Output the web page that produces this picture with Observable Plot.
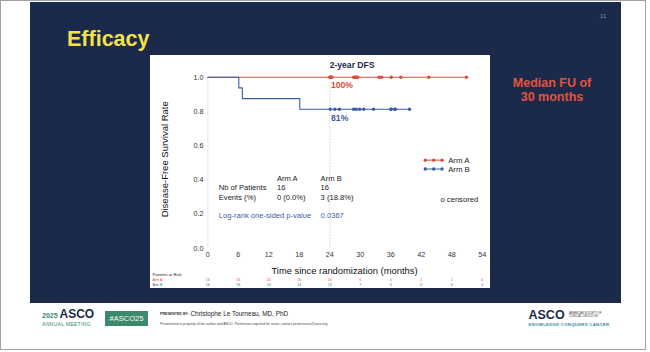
<!DOCTYPE html>
<html><head><meta charset="utf-8">
<script src="https://cdn.jsdelivr.net/npm/d3@7"></script>
<script src="https://cdn.jsdelivr.net/npm/@observablehq/plot@0.6"></script>
<style>
html,body{margin:0;padding:0;background:#fff;}
body{width:650px;height:352px;position:relative;overflow:hidden;font-family:Arial,"Liberation Sans",Helvetica,sans-serif;}
.a{position:absolute;white-space:nowrap;line-height:1;}
#frame{left:0;top:0;width:646px;height:350px;border:1px solid #a0a0a0;box-sizing:border-box;}
#slide{left:30px;top:2px;width:591px;height:301px;background:#1b2a4a;}
#title{left:67px;top:28.8px;color:#f2e24a;font-weight:bold;font-size:21.5px;}
#pnum{left:600px;top:13px;color:#8893ad;font-size:6px;}
#fu{left:492px;top:75.8px;width:120px;text-align:center;color:#e2533f;font-weight:bold;font-size:12.5px;line-height:14.4px;white-space:normal;}
#chart{left:150px;top:55px;}
</style></head>
<body>
<div id="frame" class="a"></div>
<div id="slide" class="a"></div>
<div id="title" class="a">Efficacy</div>
<div id="pnum" class="a">11</div>
<div id="fu" class="a">Median FU of<br>30 months</div>
<div id="chart" class="a"></div>

<div class="a" style="left:42px;top:308px;font-size:12px;line-height:12px;font-weight:bold;color:#1b2a4a;"><span style="font-size:7px;color:#3a8a6a;">2025 </span>ASCO</div>
<div class="a" style="left:42px;top:321.5px;font-size:5.2px;color:#3a8a6a;letter-spacing:0.2px;">ANNUAL MEETING</div>
<div class="a" style="left:105px;top:311px;width:43px;height:15px;background:#3b8a6b;color:#fff;font-size:7.5px;line-height:15px;text-align:center;">#ASCO25</div>
<div class="a" style="left:160px;top:312.5px;font-size:3.6px;font-weight:bold;color:#333;">PRESENTED BY:</div>
<div class="a" style="left:190.5px;top:311px;font-size:6.4px;color:#222;">Christophe Le Tourneau, MD, PhD</div>
<div class="a" style="left:160px;top:322.5px;font-size:3.4px;color:#444;">Presentation is property of the author and ASCO. Permission required for reuse; contact permissions@asco.org</div>
<div class="a" style="left:528.5px;top:309px;font-size:12.5px;font-weight:bold;color:#1b2a4a;">ASCO</div>
<div class="a" style="left:569px;top:312px;font-size:2.8px;color:#333;line-height:3.3px;">AMERICAN SOCIETY OF<br>CLINICAL ONCOLOGY</div>
<div class="a" style="left:528.5px;top:322.5px;font-size:4.2px;font-weight:bold;color:#2f8a9a;letter-spacing:0.35px;">KNOWLEDGE CONQUERS CANCER</div>

<script>
// ---------- data ----------
const arms = ["Arm A", "Arm B"];
const armColors = ["#e04a3c", "#3d5ca6"];
const xTicks = [0, 6, 12, 18, 24, 30, 36, 42, 48, 54];
const yTicks = [0, 0.2, 0.4, 0.6, 0.8, 1.0];
// Kaplan-Meier step points (months, survival)
const armATimes = [0, 50.9];
const armASurv  = [1, 1];
const armBTimes = [0, 6.1, 6.8, 18.1, 39.7];
const armBSurv  = [1, 0.9375, 0.875, 0.8125, 0.8125];
// censoring times (months)
const armACensored = [24.0, 24.1, 24.2, 24.3, 24.4, 28.7, 28.9, 29.1, 29.3, 29.5, 33.7, 34.2, 36.1, 38.0, 43.5, 50.9];
const armBCensored = [24.1, 25.0, 25.9, 28.7, 29.2, 29.9, 30.7, 32.6, 36.0, 36.1, 36.8, 36.9, 39.7];
// patients at risk at each x tick
const armAAtRisk = [16, 16, 16, 16, 16, 6, 4, 2, 1, 0];
const armBAtRisk = [16, 16, 14, 14, 13, 7, 5, 0, 0, 0];
// summary table
const tableHeader = ["Arm A", "Arm B"];
const tableLabels = ["Nb of Patients", "Events (%)"];
const armAStats = ["16", "0 (0.0%)"];
const armBStats = ["16", "3 (18.8%)"];
const pLabel = "Log-rank one-sided p-value";
const pValue = "0.0367";
const dfsTitle = "2-year DFS";
const dfsValues = ["100%", "81%"];
const landmark = 24;

// ---------- derived tables ----------
const curves = [[armATimes, armASurv], [armBTimes, armBSurv]];
const censored = [armACensored, armBCensored];
const atRisk = [armAAtRisk, armBAtRisk];
const curveRows = arms.flatMap((arm, i) => curves[i][0].map((t, j) => ({arm, t, s: curves[i][1][j]})));
const survAt = (i, t) => { const [ts, ss] = curves[i]; let s = ss[0]; ts.forEach((tt, j) => { if (tt <= t) s = ss[j]; }); return s; };
const censorRows = arms.flatMap((arm, i) => censored[i].map(t => ({arm, t, s: survAt(i, t)})));
const riskRows = i => xTicks.map((t, j) => ({t, n: String(atRisk[i][j])}));

const font = "Arial, 'Liberation Sans', Helvetica, sans-serif";
const txt = "#1a1a1a";
// layout (data-space anchors for annotations)
const legX = [42.8, 44.45, 46.1], legY = [0.515, 0.463];
const colX = [2.16, 13.6, 22.2];
const rowY = [0.41, 0.357, 0.298, 0.191];

const marks = [
  Plot.ruleX([0], {stroke: "#e4e4e4", strokeWidth: 0.8}),
  Plot.ruleX([landmark], {y1: 0, y2: 1, stroke: "#c4c4c4", strokeWidth: 0.8, strokeDasharray: "1.2,1.8"}),
  Plot.axisX({ticks: xTicks, tickSize: 0, tickPadding: 3.5, fontSize: 7.2, fill: "#333", label: null}),
  Plot.axisY({ticks: yTicks, tickFormat: d => d.toFixed(1), tickSize: 0, tickPadding: 4.3, fontSize: 7.2, fill: "#333", label: null}),
  Plot.line(curveRows, {x: "t", y: "s", z: "arm", stroke: "arm", curve: "step-after", strokeWidth: 1.1}),
  Plot.dot(censorRows, {x: "t", y: "s", fill: "arm", r: 1.7}),
  // titles
  Plot.text(["Time since randomization (months)"], {x: 26.9, y: 0, dy: 22.5, fontSize: 9.4, fill: "#111"}),
  Plot.text(["Disease-Free Survival Rate"], {x: 0, y: 0.52, dx: -43.3, rotate: -90, fontSize: 9.5, fill: "#111"}),
  // 2-year DFS annotation
  Plot.text([dfsTitle], {x: 28.4, y: 1.068, fontSize: 8.6, fontWeight: "bold", fill: "#1b2a4a"}),
  Plot.text([dfsValues[0]], {x: 26.4, y: 0.951, fontSize: 8.6, fontWeight: "bold", fill: armColors[0]}),
  Plot.text([dfsValues[1]], {x: 25.95, y: 0.758, fontSize: 8.6, fontWeight: "bold", fill: armColors[1]}),
  // summary table
  Plot.text(tableHeader, {x: (d, i) => colX[i + 1], y: rowY[0], textAnchor: "start", fontSize: 7.6, fill: txt}),
  Plot.text(tableLabels, {x: colX[0], y: (d, i) => rowY[i + 1], textAnchor: "start", fontSize: 7.6, fill: txt}),
  Plot.text(armAStats, {x: colX[1], y: (d, i) => rowY[i + 1], textAnchor: "start", fontSize: 7.6, fill: txt}),
  Plot.text(armBStats, {x: colX[2], y: (d, i) => rowY[i + 1], textAnchor: "start", fontSize: 7.6, fill: txt}),
  Plot.text([pLabel], {x: colX[0], y: rowY[3], textAnchor: "start", fontSize: 7.6, fill: armColors[1]}),
  Plot.text([pValue], {x: colX[2], y: rowY[3], textAnchor: "start", fontSize: 7.6, fill: armColors[1]}),
  Plot.text(["o censored"], {x: 45.8, y: 0.285, textAnchor: "start", fontSize: 7.6, fill: txt}),
  // legend
  ...arms.flatMap((arm, i) => [
    Plot.ruleY([legY[i]], {x1: legX[0], x2: legX[2], stroke: armColors[i], strokeWidth: 1}),
    Plot.dot(legX, {x: d => d, y: legY[i], fill: armColors[i], r: 1.7}),
    Plot.text([arm], {x: 47.3, y: legY[i], textAnchor: "start", fontSize: 7.8, fill: txt})
  ]),
  // patients at risk
  Plot.text(["Patients at Risk"], {x: 0, y: 0, dx: -55.3, dy: 26.6, textAnchor: "start", fontSize: 4.2, fill: "#222"}),
  ...arms.flatMap((arm, i) => [
    Plot.text([arm], {x: 0, y: 0, dx: -55.3, dy: 31.8 + 4.4 * i, textAnchor: "start", fontSize: 3.6, fill: armColors[i]}),
    Plot.text(riskRows(i), {x: "t", y: 0, dy: 31.8 + 4.4 * i, text: "n", fontSize: 3.6, fill: armColors[i]})
  ])
];

const chart = Plot.plot({
  width: 340, height: 233,
  marginLeft: 57.3, marginRight: 8.3, marginTop: 21.7, marginBottom: 40.3,
  x: {domain: [0, 54]},
  y: {domain: [0, 1]},
  color: {domain: arms, range: armColors},
  style: {background: "#fff", fontFamily: font, overflow: "visible"},
  marks
});
document.getElementById("chart").appendChild(chart);
</script>
</body></html>
